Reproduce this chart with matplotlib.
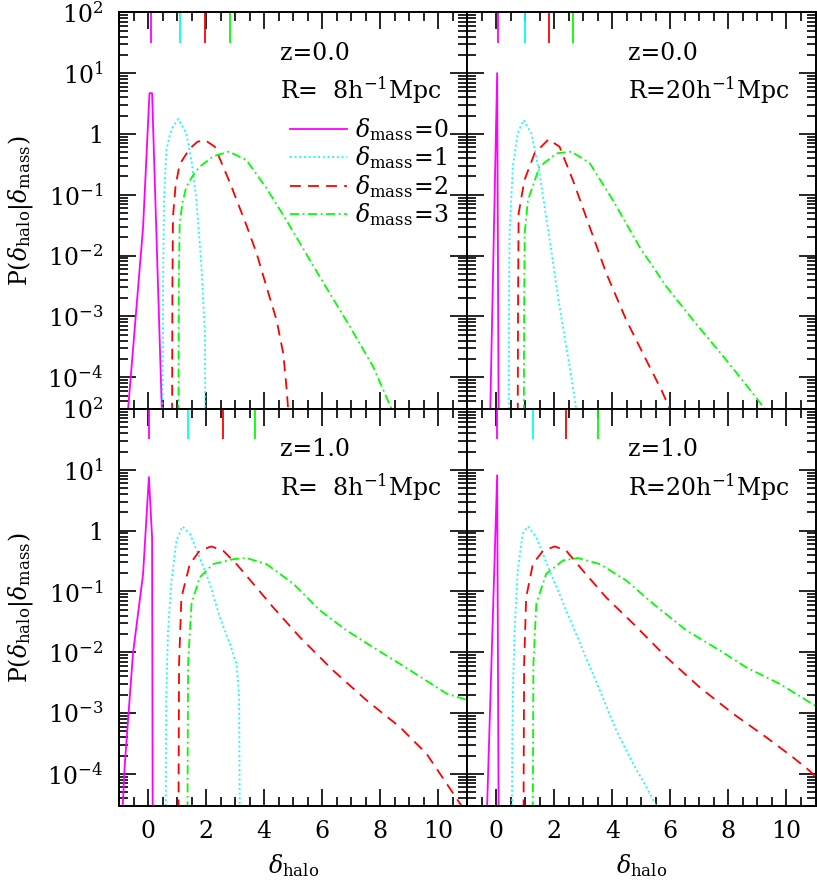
import numpy as np
import matplotlib
matplotlib.use("Agg")
import matplotlib.pyplot as plt
from matplotlib.ticker import FixedLocator, FuncFormatter, LogLocator, NullFormatter

# ---- dados (x = delta_halo, log10 P) ----
# z=0.0, R=8
x_a_m0 = [-0.70, -0.17, 0.05, 0.14, 0.48]
lp_a_m0 = [-4.6, -1.53, 0.67, 0.67, -4.6]
x_a_m1 = [0.50, 0.52, 0.55, 0.63, 0.75, 0.86, 1.04, 1.32, 1.50, 1.67, 1.84, 1.96, 1.97, 1.97]
lp_a_m1 = [-4.6, -2.5, -1.09, -0.27, -0.02, 0.12, 0.245, 0.01, -0.45, -1.09, -2.18, -3.28, -4.2, -4.6]
x_a_m2 = [0.83, 0.84, 0.86, 0.95, 1.09, 1.25, 1.44, 1.70, 1.96, 2.30, 2.82, 3.39, 3.74, 4.08, 4.43, 4.66, 4.77, 4.84]
lp_a_m2 = [-4.6, -2.5, -1.36, -0.85, -0.50, -0.38, -0.24, -0.13, -0.10, -0.21, -0.80, -1.50, -1.96, -2.51, -3.06, -3.61, -4.16, -4.6]
x_a_m3 = [1.05, 1.06, 1.09, 1.20, 1.32, 1.55, 1.78, 2.24, 2.79, 3.39, 4.08, 4.77, 5.92, 6.96, 7.76, 8.39]
lp_a_m3 = [-4.6, -2.5, -1.47, -1.10, -0.87, -0.68, -0.54, -0.37, -0.29, -0.43, -0.89, -1.42, -2.35, -3.17, -3.83, -4.52]

# z=0.0, R=20
x_b_m0 = [-0.21, 0.03, 0.08]
lp_b_m0 = [-4.6, 1.0, -4.6]
x_b_m1 = [0.43, 0.44, 0.46, 0.57, 0.74, 0.94, 1.21, 1.49, 1.84, 2.18, 2.53, 2.73, 2.76]
lp_b_m1 = [-4.6, -2.8, -1.63, -0.54, 0.01, 0.23, 0.01, -0.65, -1.74, -2.84, -3.83, -4.43, -4.6]
x_b_m2 = [0.74, 0.75, 0.77, 0.97, 1.32, 1.80, 2.18, 2.64, 3.22, 3.79, 4.48, 5.17, 5.69, 5.98]
lp_b_m2 = [-4.6, -2.8, -1.31, -0.76, -0.32, -0.09, -0.21, -0.76, -1.53, -2.29, -3.06, -3.72, -4.21, -4.52]
x_b_m3 = [0.95, 0.96, 0.98, 1.09, 1.49, 2.07, 2.59, 3.22, 4.02, 4.94, 5.86, 6.78, 7.93, 8.85, 9.25]
lp_b_m3 = [-4.6, -2.8, -1.63, -1.09, -0.54, -0.32, -0.29, -0.48, -1.09, -1.86, -2.51, -3.06, -3.72, -4.27, -4.52]

# z=1.0, R=8
x_c_m0 = [-0.88, -0.80, -0.52, -0.17, 0.03, 0.14, 0.16]
lp_c_m0 = [-4.6, -3.84, -2.03, -0.71, 0.88, -0.11, -4.6]
x_c_m1 = [0.61, 0.62, 0.63, 0.69, 0.81, 0.98, 1.19, 1.44, 1.78, 2.13, 2.47, 2.82, 3.05, 3.14, 3.16]
lp_c_m1 = [-4.6, -3.5, -2.74, -1.64, -0.82, -0.16, 0.07, -0.05, -0.44, -0.87, -1.42, -1.86, -2.19, -2.74, -4.6]
x_c_m2 = [1.05, 1.06, 1.07, 1.15, 1.44, 1.78, 2.18, 2.59, 3.05, 3.62, 4.31, 5.23, 6.38, 7.53, 8.68, 9.60, 10.29, 10.81]
lp_c_m2 = [-4.6, -3.3, -2.19, -1.10, -0.55, -0.33, -0.26, -0.33, -0.55, -0.87, -1.26, -1.75, -2.30, -2.79, -3.23, -3.67, -4.16, -4.53]
x_c_m3 = [1.36, 1.37, 1.38, 1.50, 1.78, 2.24, 2.93, 3.39, 4.08, 5.00, 5.92, 6.84, 7.76, 8.68, 9.60, 10.29, 11.04]
lp_c_m3 = [-4.6, -3.3, -2.19, -1.20, -0.77, -0.55, -0.47, -0.45, -0.55, -0.87, -1.31, -1.64, -1.92, -2.19, -2.47, -2.68, -2.79]

# z=1.0, R=20
x_d_m0 = [-0.32, 0.03, 0.08]
lp_d_m0 = [-4.6, 0.91, -4.6]
x_d_m1 = [0.54, 0.55, 0.57, 0.63, 0.74, 0.91, 1.09, 1.38, 1.84, 2.41, 2.99, 3.57, 4.14, 4.72, 5.18, 5.52]
lp_d_m1 = [-4.6, -3.5, -2.74, -1.64, -0.66, -0.05, 0.07, -0.11, -0.66, -1.31, -1.97, -2.63, -3.29, -3.84, -4.22, -4.53]
x_d_m2 = [0.94, 0.95, 0.96, 1.03, 1.26, 1.61, 2.02, 2.41, 2.99, 3.79, 4.72, 5.86, 7.02, 8.16, 9.31, 10.23, 10.80, 11.10]
lp_d_m2 = [-4.6, -3.3, -2.19, -1.10, -0.55, -0.33, -0.26, -0.33, -0.66, -1.10, -1.53, -2.08, -2.58, -3.01, -3.40, -3.73, -3.95, -4.10]
x_d_m3 = [1.26, 1.27, 1.28, 1.38, 1.72, 2.30, 2.82, 3.57, 4.48, 5.40, 6.55, 7.70, 8.62, 9.77, 11.03]
lp_d_m3 = [-4.6, -3.3, -2.19, -1.20, -0.71, -0.49, -0.45, -0.55, -0.82, -1.20, -1.64, -1.97, -2.25, -2.52, -2.89]

# marcas coloridas no topo (media de delta_halo)
mark_a = [0.09, 1.09, 1.98, 2.82]
mark_b = [0.045, 0.98, 1.83, 2.64]
mark_c = [0.02, 1.38, 2.57, 3.68]
mark_d = [0.03, 1.26, 2.40, 3.49]

z_labels = ["z=0.0", "z=0.0", "z=1.0", "z=1.0"]
r_labels = [r"R=  8h$^{-1}$Mpc", r"R=20h$^{-1}$Mpc", r"R=  8h$^{-1}$Mpc", r"R=20h$^{-1}$Mpc"]
mass_labels = [r"$\delta_{\rm mass}\!=\!0$", r"$\delta_{\rm mass}\!=\!1$",
               r"$\delta_{\rm mass}\!=\!2$", r"$\delta_{\rm mass}\!=\!3$"]

cores = ["#ff00ff", "#00ffff", "#ff0000", "#00ff00"]
estilos = ["-", (0, (1.0, 1.6)), (0, (6, 4)), (0, (5, 2, 1, 2))]

plt.rcParams["font.family"] = "DejaVu Serif"
plt.rcParams["mathtext.fontset"] = "dejavuserif"
plt.rcParams["font.size"] = 17

fig = plt.figure(figsize=(8.17, 8.81), dpi=100)
axs = fig.subplots(2, 2, sharex=True, sharey=True,
                   gridspec_kw=dict(left=119/817, right=815.5/817, top=1 - 12.3/881,
                                    bottom=1 - 805.7/881, hspace=0, wspace=0))

paineis = [
    (axs[0, 0], [(x_a_m0, lp_a_m0), (x_a_m1, lp_a_m1), (x_a_m2, lp_a_m2), (x_a_m3, lp_a_m3)], mark_a),
    (axs[0, 1], [(x_b_m0, lp_b_m0), (x_b_m1, lp_b_m1), (x_b_m2, lp_b_m2), (x_b_m3, lp_b_m3)], mark_b),
    (axs[1, 0], [(x_c_m0, lp_c_m0), (x_c_m1, lp_c_m1), (x_c_m2, lp_c_m2), (x_c_m3, lp_c_m3)], mark_c),
    (axs[1, 1], [(x_d_m0, lp_d_m0), (x_d_m1, lp_d_m1), (x_d_m2, lp_d_m2), (x_d_m3, lp_d_m3)], mark_d),
]

def fmt_y(v, pos):
    e = int(round(np.log10(v)))
    if e == 0:
        return "1"
    return r"$10^{%d}$" % e

for i, (ax, curvas, marcas) in enumerate(paineis):
    for k, (xs, lp) in enumerate(curvas):
        ax.plot(xs, 10 ** np.array(lp), color=cores[k], ls=estilos[k], lw=1.3,
                label=mass_labels[k])
    for k, xm in enumerate(marcas):
        ax.vlines(xm, 10 ** 1.5, 100, color=cores[k], lw=1.3)

    ax.set_yscale("log")
    ax.set_xlim(-1, 11)
    ax.set_ylim(3e-5, 100)
    ax.xaxis.set_major_locator(FixedLocator([0, 2, 4, 6, 8, 10]))
    ax.xaxis.set_minor_locator(FixedLocator(np.arange(-1, 11.01, 0.5)))
    ax.yaxis.set_major_locator(LogLocator(base=10, numticks=20))
    ax.yaxis.set_minor_locator(LogLocator(base=10, subs=np.arange(2, 10), numticks=20))
    ax.yaxis.set_major_formatter(FuncFormatter(fmt_y))
    ax.yaxis.set_minor_formatter(NullFormatter())
    ax.tick_params(which="both", direction="in", top=True, right=True, width=1.2)
    ax.tick_params(which="major", length=12.5)
    ax.tick_params(which="minor", length=6.5)
    ax.tick_params(axis="y", which="major", pad=11.5)
    ax.tick_params(axis="x", which="major", pad=10)
    for s in ax.spines.values():
        s.set_linewidth(1.4)

    ax.text(0.461, 0.897, z_labels[i], transform=ax.transAxes, va="center", ha="left")
    ax.text(0.461, 0.804, r_labels[i], transform=ax.transAxes, va="center", ha="left")

    if i in (0, 2):
        ax.set_ylabel(r"P($\delta_{\rm halo}$|$\delta_{\rm mass}$)", labelpad=9)
    if i in (2, 3):
        ax.set_xlabel(r"$\delta_{\rm halo}$", labelpad=7)

axs[0, 0].legend(loc="upper left", bbox_to_anchor=(0.49, 0.738), frameon=False,
                 handlelength=2.45, handletextpad=0.32, labelspacing=0.06,
                 borderaxespad=0, borderpad=0)

fig.savefig("out.png", dpi=100)
